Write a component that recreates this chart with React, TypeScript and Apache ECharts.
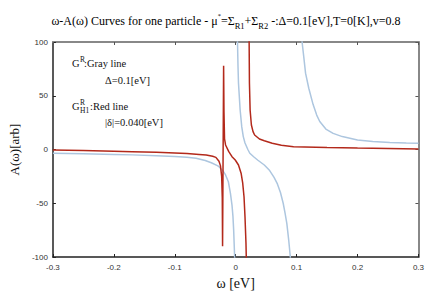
import React, { useEffect, useRef } from "react";
import * as echarts from "echarts";

// x axis ticks
const xMin = -0.3;
const xMax = 0.3;
const xStep = 0.1;
const yMin = -100;
const yMax = 100;
const yStep = 50;

// G^R (gray line), three branches separated by poles
const grayBranch1: [number, number][] = [
  [-0.3, -3.5], [-0.25, -4.0], [-0.2, -4.6], [-0.17, -5.0], [-0.13, -5.7],
  [-0.1, -6.5], [-0.08, -7.3], [-0.065, -8.2], [-0.05, -10.3], [-0.04, -12.3],
  [-0.03, -15], [-0.0274, -16], [-0.02, -20.5], [-0.0166, -23.7], [-0.012, -30],
  [-0.0086, -40.8], [-0.006, -52], [-0.0045, -62], [-0.0033, -75], [-0.0017, -100],
  [-0.001, -130],
];
const grayBranch2: [number, number][] = [
  [0.0022, 125], [0.003, 100], [0.0038, 78], [0.0046, 62], [0.0073, 37],
  [0.01, 21], [0.0125, 12], [0.0153, 6], [0.02, 0], [0.0232, -3.5],
  [0.03, -7], [0.0365, -10], [0.047, -14.4], [0.055, -19], [0.063, -26],
  [0.0685, -32], [0.0735, -40], [0.078, -50], [0.081, -59], [0.084, -69],
  [0.087, -84], [0.0897, -100], [0.091, -115],
];
const grayBranch3: [number, number][] = [
  [0.108, 125], [0.109, 100], [0.112, 85], [0.1147, 71], [0.12, 57],
  [0.127, 42], [0.133, 32], [0.138, 26], [0.148, 19], [0.16, 15],
  [0.175, 12], [0.2, 8.8], [0.225, 7.5], [0.253, 6.6], [0.28, 6.1],
  [0.3, 5.8],
];

// G^R_H1 (red line), two branches
const redBranch1: [number, number][] = [
  [-0.3, -0.5], [-0.25, -1.0], [-0.2, -1.6], [-0.17, -2.0], [-0.13, -2.6],
  [-0.1, -3.2], [-0.08, -3.8], [-0.06, -4.6], [-0.0484, -5.1], [-0.0378, -6.3],
  [-0.0325, -7.3], [-0.0274, -11], [-0.025, -15], [-0.023, -25], [-0.022, -45],
  [-0.0215, -90], [-0.0198, 78], [-0.0192, 35], [-0.0183, 10], [-0.0166, 4.2],
  [-0.0113, -2], [-0.006, -6.7], [-0.0007, -9.8], [0.0046, -14.4], [0.0089, -22],
  [0.0115, -31], [0.0137, -44], [0.0153, -62.5], [0.0169, -87], [0.0174, -100],
  [0.018, -115],
];
const redBranch2: [number, number][] = [
  [0.0215, 115], [0.0221, 100], [0.0226, 61.6], [0.0237, 36.7], [0.0258, 22.8],
  [0.0285, 16.6], [0.0311, 13.5], [0.039, 9.8], [0.047, 8.2], [0.06, 5.8],
  [0.075, 4.0], [0.095, 2.6], [0.15, 1.8], [0.2, 1.3], [0.25, 0.9],
  [0.3, 0.5],
];

const GRAY = "#adc6df";
const RED = "#b3291b";
const SERIF = "'Liberation Serif', 'DejaVu Serif', serif";
const SANS = "'Liberation Sans', Arial, sans-serif";

export default function App() {
  const ref = useRef<HTMLDivElement>(null);
  useEffect(() => {
    if (!ref.current) return;
    const chart = echarts.init(ref.current, undefined, { renderer: "svg" });
    const mk = (data: [number, number][], color: string, z: number) => ({
      type: "line",
      data,
      showSymbol: false,
      symbol: "none",
      smooth: false,
      clip: true,
      z,
      lineStyle: { color, width: 1.5 },
      xAxisIndex: 0,
      yAxisIndex: 0,
    });
    const noteStyle = { fontFamily: SERIF, fontSize: 10.5, fill: "#111" };
    chart.setOption({
      animation: false,
      backgroundColor: "#fff",
      grid: { left: 42, right: 8, top: 42, bottom: 43 },
      xAxis: [
        {
          type: "value",
          min: xMin,
          max: xMax,
          interval: xStep,
          position: "bottom",
          name: "ω [eV]",
          nameLocation: "middle",
          nameGap: 19,
          nameTextStyle: { fontFamily: SERIF, fontSize: 14, color: "#111" },
          axisLine: { show: true, onZero: false, lineStyle: { color: "#222", width: 1.5 } },
          axisTick: { show: true, inside: true, length: 3, lineStyle: { color: "#222" } },
          axisLabel: { fontFamily: SANS, fontSize: 8, color: "#333", margin: 6 },
          splitLine: { show: false },
        },
        {
          type: "value",
          min: xMin,
          max: xMax,
          interval: xStep,
          position: "top",
          axisLine: { show: true, onZero: false, lineStyle: { color: "#888", width: 2 } },
          axisTick: { show: true, inside: true, length: 3, lineStyle: { color: "#555" } },
          axisLabel: { show: false },
          splitLine: { show: false },
        },
      ],
      yAxis: [
        {
          type: "value",
          min: yMin,
          max: yMax,
          interval: yStep,
          position: "left",
          name: "A(ω)[arb]",
          nameLocation: "middle",
          nameGap: 24,
          nameTextStyle: { fontFamily: SERIF, fontSize: 13, color: "#111" },
          axisLine: { show: true, onZero: false, lineStyle: { color: "#222", width: 1.5 } },
          axisTick: { show: true, inside: true, length: 3, lineStyle: { color: "#222" } },
          axisLabel: { fontFamily: SANS, fontSize: 8, color: "#333", margin: 5 },
          splitLine: { show: false },
        },
        {
          type: "value",
          min: yMin,
          max: yMax,
          interval: yStep,
          position: "right",
          axisLine: { show: true, onZero: false, lineStyle: { color: "#888", width: 2 } },
          axisTick: { show: true, inside: true, length: 3, lineStyle: { color: "#555" } },
          axisLabel: { show: false },
          splitLine: { show: false },
        },
      ],
      series: [
        mk(grayBranch1, GRAY, 2),
        mk(grayBranch2, GRAY, 2),
        mk(grayBranch3, GRAY, 2),
        mk(redBranch1, RED, 3),
        mk(redBranch2, RED, 3),
      ],
      graphic: [
        {
          type: "text",
          x: 226,
          y: 21,
          style: {
            text:
              "{a|ω-A(ω) Curves for one particle - μ}{sup|*}{a|=Σ}{sub|R1}{a|+Σ}{sub|R2}{a| -:Δ=0.1[eV],T=0[K],v=0.8}",
            align: "center",
            verticalAlign: "middle",
            rich: {
              a: { fontFamily: SERIF, fontSize: 12, lineHeight: 19, verticalAlign: "middle", color: "#111" },
              sub: { fontFamily: SERIF, fontSize: 8.5, lineHeight: 8.5, verticalAlign: "bottom", color: "#111" },
              sup: { fontFamily: SERIF, fontSize: 6.5, lineHeight: 6.5, verticalAlign: "top", color: "#111" },
            },
          },
        },
        // G^R:Gray line
        { type: "text", x: 72, y: 63, style: { ...noteStyle, text: "G", verticalAlign: "middle" } },
        { type: "text", x: 80, y: 59, style: { ...noteStyle, fontSize: 7.5, text: "R", verticalAlign: "middle" } },
        { type: "text", x: 84, y: 63, style: { ...noteStyle, text: ":Gray line", verticalAlign: "middle" } },
        { type: "text", x: 105, y: 80, style: { ...noteStyle, text: "Δ=0.1[eV]", verticalAlign: "middle" } },
        // G^R_H1:Red line
        { type: "text", x: 72, y: 106, style: { ...noteStyle, text: "G", verticalAlign: "middle" } },
        { type: "text", x: 80, y: 102, style: { ...noteStyle, fontSize: 7.5, text: "R", verticalAlign: "middle" } },
        { type: "text", x: 80, y: 110, style: { ...noteStyle, fontSize: 7.5, text: "H1", verticalAlign: "middle" } },
        { type: "text", x: 90, y: 106, style: { ...noteStyle, text: ":Red line", verticalAlign: "middle" } },
        { type: "text", x: 105, y: 122, style: { ...noteStyle, text: "|δ|=0.040[eV]", verticalAlign: "middle" } },
      ],
    });
    return () => chart.dispose();
  }, []);
  return <div ref={ref} style={{ width: 427, height: 300, position: "absolute", left: 0, top: 0 }} />;
}
